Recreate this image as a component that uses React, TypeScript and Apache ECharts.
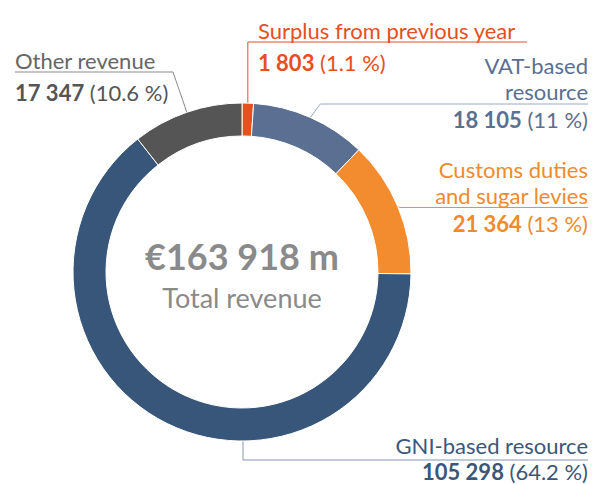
import React, { useEffect, useRef } from "react";
import * as echarts from "echarts";

// ---- data ----
const categories = [
  "Surplus from previous year",
  "VAT-based resource",
  "Customs duties and sugar levies",
  "GNI-based resource",
  "Other revenue",
];
const nameLines = [
  ["Surplus from previous year"],
  ["VAT-based", "resource"],
  ["Customs duties", "and sugar levies"],
  ["GNI-based resource"],
  ["Other revenue"],
];
const values = [1803, 18105, 21364, 105298, 17347];
const shares = ["1.1", "11", "13", "64.2", "10.6"];
const totalText = "€163 918 m";
const totalLabel = "Total revenue";

// ---- styles ----
const sliceColors = ["#E84E1E", "#5A6F91", "#F28C2E", "#38567A", "#555555"];
const nameColors = ["#E84E1E", "#5A6F91", "#F08A2C", "#3A5779", "#666666"];
const valueColors = ["#E84E1E", "#5A6F91", "#F08A2C", "#3A5779", "#555555"];
const lineColors = ["#E84E1E", "#9AAAC4", "#F28C2E", "#8197B6", "#8A8A8A"];
const valueLineHeights = [38, 30, 30, 26, 38];

const CX = 242;
const CY = 272;
const R_IN = 136;
const R_OUT = 169;
const FONT = "Lato, 'Open Sans', sans-serif";

const fmt = (v: number) =>
  String(v).replace(/\B(?=(\d{3})+(?!\d))/g, " ");

export default function App() {
  const ref = useRef<HTMLDivElement>(null);

  useEffect(() => {
    if (!ref.current) return;
    const chart = echarts.init(ref.current, undefined, { renderer: "svg" });

    const rich: Record<string, any> = {};
    sliceColors.forEach((_, i) => {
      rich["n" + i] = { fontFamily: FONT, fontSize: 22, lineHeight: 26, color: nameColors[i] };
      rich["v" + i] = {
        fontFamily: FONT,
        fontSize: 22,
        fontWeight: "bold",
        lineHeight: valueLineHeights[i],
        color: valueColors[i],
      };
      rich["p" + i] = {
        fontFamily: FONT,
        fontSize: 22,
        lineHeight: valueLineHeights[i],
        color: valueColors[i],
      };
    });

    const layout = [
      { x: 258, y: 17, align: "left" },
      { x: 588, y: 52, align: "right" },
      { x: 588, y: 156, align: "right" },
      { x: 588, y: 432, align: "right" },
      { x: 15, y: 47, align: "left" },
    ];

    const option: any = {
      animation: false,
      backgroundColor: "#ffffff",
      graphic: [
        {
          type: "text",
          z: 100,
          x: CX,
          y: CY - 16,
          style: {
            text: totalText,
            fill: "#8A8A8A",
            font: "bold 36px " + FONT,
            align: "center",
            verticalAlign: "middle",
          },
        },
        {
          type: "text",
          z: 100,
          x: CX,
          y: CY + 25,
          style: {
            text: totalLabel,
            fill: "#8A8A8A",
            font: "27px " + FONT,
            align: "center",
            verticalAlign: "middle",
          },
        },
      ],
      series: [
        {
          type: "pie",
          center: [CX, CY],
          radius: [R_IN, R_OUT],
          startAngle: 90,
          clockwise: true,
          avoidLabelOverlap: false,
          itemStyle: { borderColor: "#ffffff", borderWidth: 1 },
          label: {
            show: true,
            position: "outside",
            rich,
            formatter: (p: any) => {
              const i = p.dataIndex;
              const names = nameLines[i].map((t) => `{n${i}|${t}}`).join("\n");
              return `${names}\n{v${i}|${fmt(values[i])}}{p${i}| (${shares[i]} %)}`;
            },
          },
          labelLine: { show: true, lineStyle: { width: 1 } },
          labelLayout: (params: any) => {
            const i = params.dataIndex;
            const L = layout[i];
            const s = params.labelLinePoints ? params.labelLinePoints[0] : [CX, CY - R_OUT];
            let pts: number[][];
            if (i === 0) pts = [s, [s[0], 42], [527, 42]];
            else if (i === 1) pts = [s, [s[0] + 10, 104], [588, 104]];
            else if (i === 2) pts = [s, [s[0] + 2, s[1] + 1], [588, s[1] + 1]];
            else if (i === 3) pts = [[CX + 1, CY + R_OUT], [CX + 1, 460], [588, 460]];
            else pts = [s, [173, 72], [15, 72]];
            return {
              x: L.x,
              y: L.y,
              align: L.align,
              verticalAlign: "top",
              labelLinePoints: pts,
            };
          },
          data: categories.map((name, i) => ({
            name,
            value: values[i],
            itemStyle: { color: sliceColors[i] },
            labelLine: { lineStyle: { color: lineColors[i], width: 1 } },
          })),
        },
      ],
    };

    chart.setOption(option);
    return () => chart.dispose();
  }, []);

  return (
    <div
      ref={ref}
      style={{ position: "fixed", left: 0, top: 0, width: 596, height: 484, background: "#fff" }}
    />
  );
}
